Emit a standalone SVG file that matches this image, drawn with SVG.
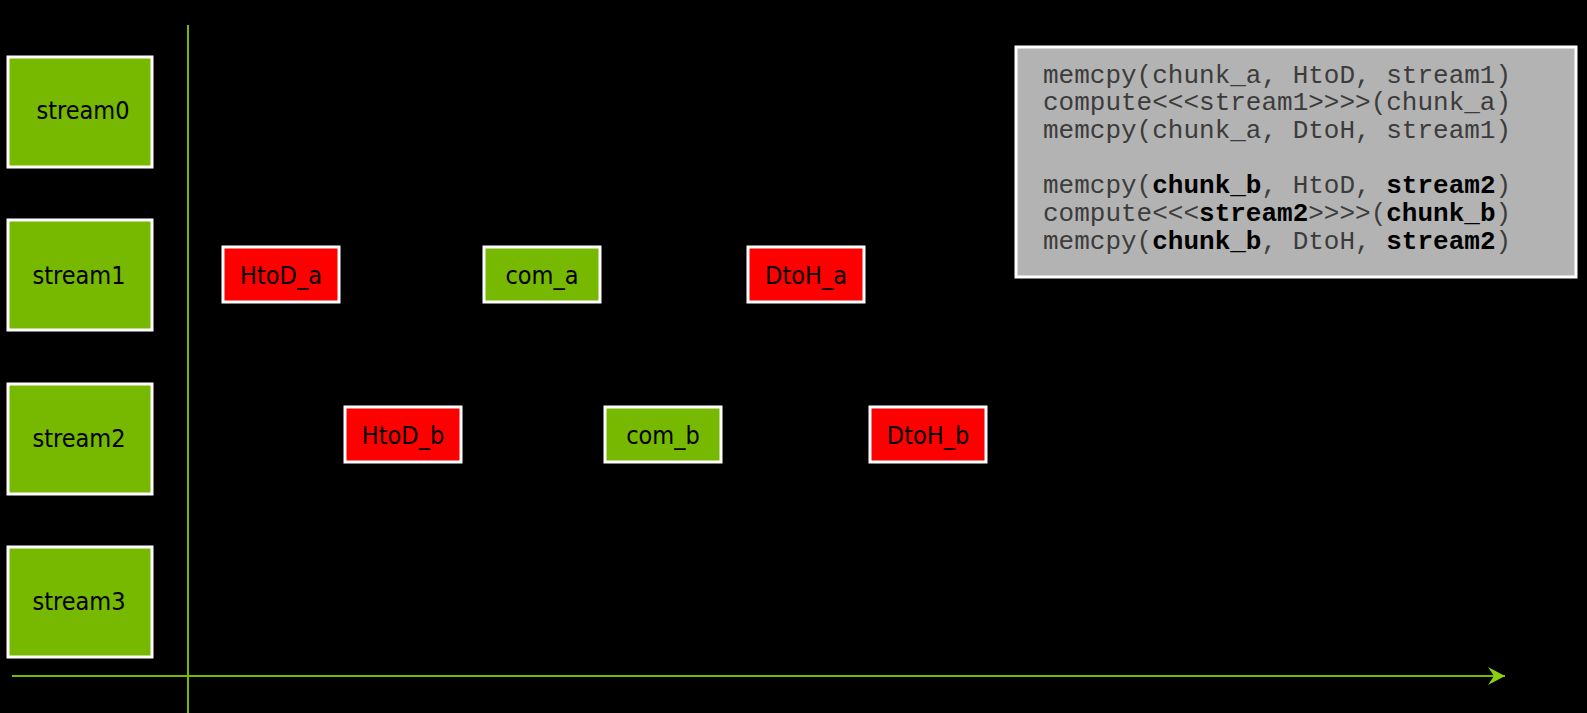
<svg xmlns="http://www.w3.org/2000/svg" width="1587" height="713" viewBox="0 0 1587 713">
<style>
.lane{fill:#76b900;stroke:#fff;stroke-width:3}
.red{fill:#ff0000;stroke:#fff;stroke-width:3}
.grn{fill:#76b900;stroke:#fff;stroke-width:3}
.lbl{font-family:"DejaVu Sans Condensed","DejaVu Sans",sans-serif;font-size:25px;fill:#000;text-anchor:middle}
.code{font-family:"Liberation Mono","DejaVu Sans Mono",monospace;font-size:26px;fill:#3c3c3c}
.b{font-weight:bold;fill:#000}
.axis{stroke:#76b900;stroke-width:2;fill:none}
</style>
<defs>
<marker id="arr" markerUnits="userSpaceOnUse" markerWidth="20" markerHeight="20" refX="17" refY="10" orient="auto">
<path d="M0,1 L17,10 L0,19 L6,10 Z" fill="#8ccf10"/>
</marker>
</defs>
<rect width="1587" height="713" fill="#000"/>
<g id="connectors">
<line class="axis" x1="188" y1="25" x2="188" y2="713"/>
<line class="axis" x1="12" y1="676" x2="1505" y2="676" marker-end="url(#arr)"/>
</g>
<g id="stream0"><rect class="lane" x="8" y="57" width="144" height="110"/><text class="lbl" x="83" y="119">stream0</text></g>
<g id="stream1"><rect class="lane" x="8" y="220" width="144" height="110"/><text class="lbl" x="79" y="284">stream1</text></g>
<g id="stream2"><rect class="lane" x="8" y="384" width="144" height="110"/><text class="lbl" x="79" y="447">stream2</text></g>
<g id="stream3"><rect class="lane" x="8" y="547" width="144" height="110"/><text class="lbl" x="79" y="610">stream3</text></g>
<g id="HtoD_a"><rect class="red" x="223" y="247" width="116" height="55"/><text class="lbl" x="281" y="284">HtoD_a</text></g>
<g id="com_a"><rect class="grn" x="484" y="247" width="116" height="55"/><text class="lbl" x="542" y="284">com_a</text></g>
<g id="DtoH_a"><rect class="red" x="748" y="247" width="116" height="55"/><text class="lbl" x="806" y="284">DtoH_a</text></g>
<g id="HtoD_b"><rect class="red" x="345" y="407" width="116" height="55"/><text class="lbl" x="403" y="444">HtoD_b</text></g>
<g id="com_b"><rect class="grn" x="605" y="407" width="116" height="55"/><text class="lbl" x="663" y="444">com_b</text></g>
<g id="DtoH_b"><rect class="red" x="870" y="407" width="116" height="55"/><text class="lbl" x="928" y="444">DtoH_b</text></g>
<g id="code">
<rect x="1016" y="47" width="560" height="230" fill="#b3b3b3" stroke="#fff" stroke-width="3"/>
<text class="code" x="1043" y="83">memcpy(chunk_a, HtoD, stream1)</text>
<text class="code" x="1043" y="110">compute&lt;&lt;&lt;stream1&gt;&gt;&gt;&gt;(chunk_a)</text>
<text class="code" x="1043" y="138">memcpy(chunk_a, DtoH, stream1)</text>
<text class="code" x="1043" y="193">memcpy(<tspan class="b">chunk_b</tspan>, HtoD, <tspan class="b">stream2</tspan>)</text>
<text class="code" x="1043" y="221">compute&lt;&lt;&lt;<tspan class="b">stream2</tspan>&gt;&gt;&gt;&gt;(<tspan class="b">chunk_b</tspan>)</text>
<text class="code" x="1043" y="249">memcpy(<tspan class="b">chunk_b</tspan>, DtoH, <tspan class="b">stream2</tspan>)</text>
</g>
</svg>
